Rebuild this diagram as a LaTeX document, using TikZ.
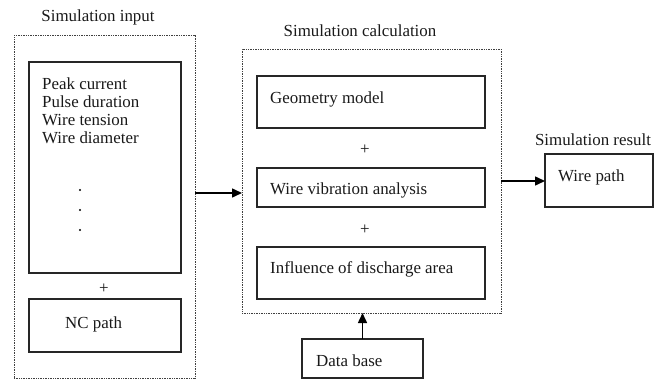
\documentclass[tikz,border=0pt]{standalone}
\usepackage{fontspec}
\setmainfont{Liberation Serif}
\usetikzlibrary{arrows.meta}
\begin{document}
\begin{tikzpicture}[x=1pt,y=-1pt,
  font=\fontsize{16.9}{18}\selectfont,
  groupbox/.style={draw=black!75, line width=0.9pt, dash pattern=on 1pt off 0.7pt,
    rectangle, inner sep=0pt, outer sep=0pt},
  itembox/.style={draw=black!85, line width=1.1pt, rectangle, inner sep=0pt, outer sep=0pt},
  label/.style={inner sep=0pt, text=black!90, text height=12pt, text depth=4pt, yshift=-2.5pt},
  flow/.style={line width=1.5pt, draw=black, -{Triangle[length=10pt,width=9pt]}}]
\useasboundingbox (0,0) rectangle (663,382);

% input group
\node[label] (tin) at (98,15) {Simulation input};
\node[groupbox, minimum width=181pt, minimum height=343pt] (inp) at (104.5,206.5) {};
\node[itembox, minimum width=152pt, minimum height=211pt] (par) at (105,167.5) {};
\node[label, anchor=west] (p1) at (42,83) {Peak current};
\node[label, anchor=west] (p2) at (42,101) {Pulse duration};
\node[label, anchor=west] (p3) at (42,119) {Wire tension};
\node[label, anchor=west] (p4) at (42,137) {Wire diameter};
\fill (80,190) circle (1.1pt);
\fill (80,210) circle (1.1pt);
\fill (80,230) circle (1.1pt);
\node[label] (plus1) at (104,287) {+};
\node[itembox, minimum width=152pt, minimum height=53pt] (nc) at (105,325.5) {};
\node[label, anchor=west] (tnc) at (65,322) {NC path};

% calculation group
\node[label] (tcalc) at (360,30) {Simulation calculation};
\node[groupbox, minimum width=259pt, minimum height=264pt] (calc) at (371.5,181) {};
\node[itembox, minimum width=228pt, minimum height=52pt] (geo) at (371,102) {};
\node[label, anchor=west] (tgeo) at (270,97) {Geometry model};
\node[label] (plus2) at (365,148) {+};
\node[itembox, minimum width=228pt, minimum height=39pt] (vib) at (371,187.5) {};
\node[label, anchor=west] (tvib) at (270,188) {Wire vibration analysis};
\node[label] (plus3) at (365,228) {+};
\node[itembox, minimum width=228pt, minimum height=52pt] (dis) at (371,273) {};
\node[label, anchor=west] (tdis) at (270,267) {Influence of discharge area};

% data base
\node[itembox, minimum width=121pt, minimum height=39pt] (db) at (362.5,358.5) {};
\node[label, anchor=west] (tdb) at (316,360) {Data base};

% result
\node[label] (tres) at (593,139) {Simulation result};
\node[itembox, minimum width=108pt, minimum height=53pt] (res) at (599,180.5) {};
\node[label, anchor=west] (tpath) at (558,175) {Wire path};

% connectors
\coordinate (inlevel) at (0,193);
\draw[flow] (inp.east |- inlevel) -- (calc.west |- inlevel);
\draw[flow] (db.north) -- (db.north |- calc.south);
\draw[flow] (calc.east) -- (res.west |- calc.east);
\end{tikzpicture}
\end{document}
